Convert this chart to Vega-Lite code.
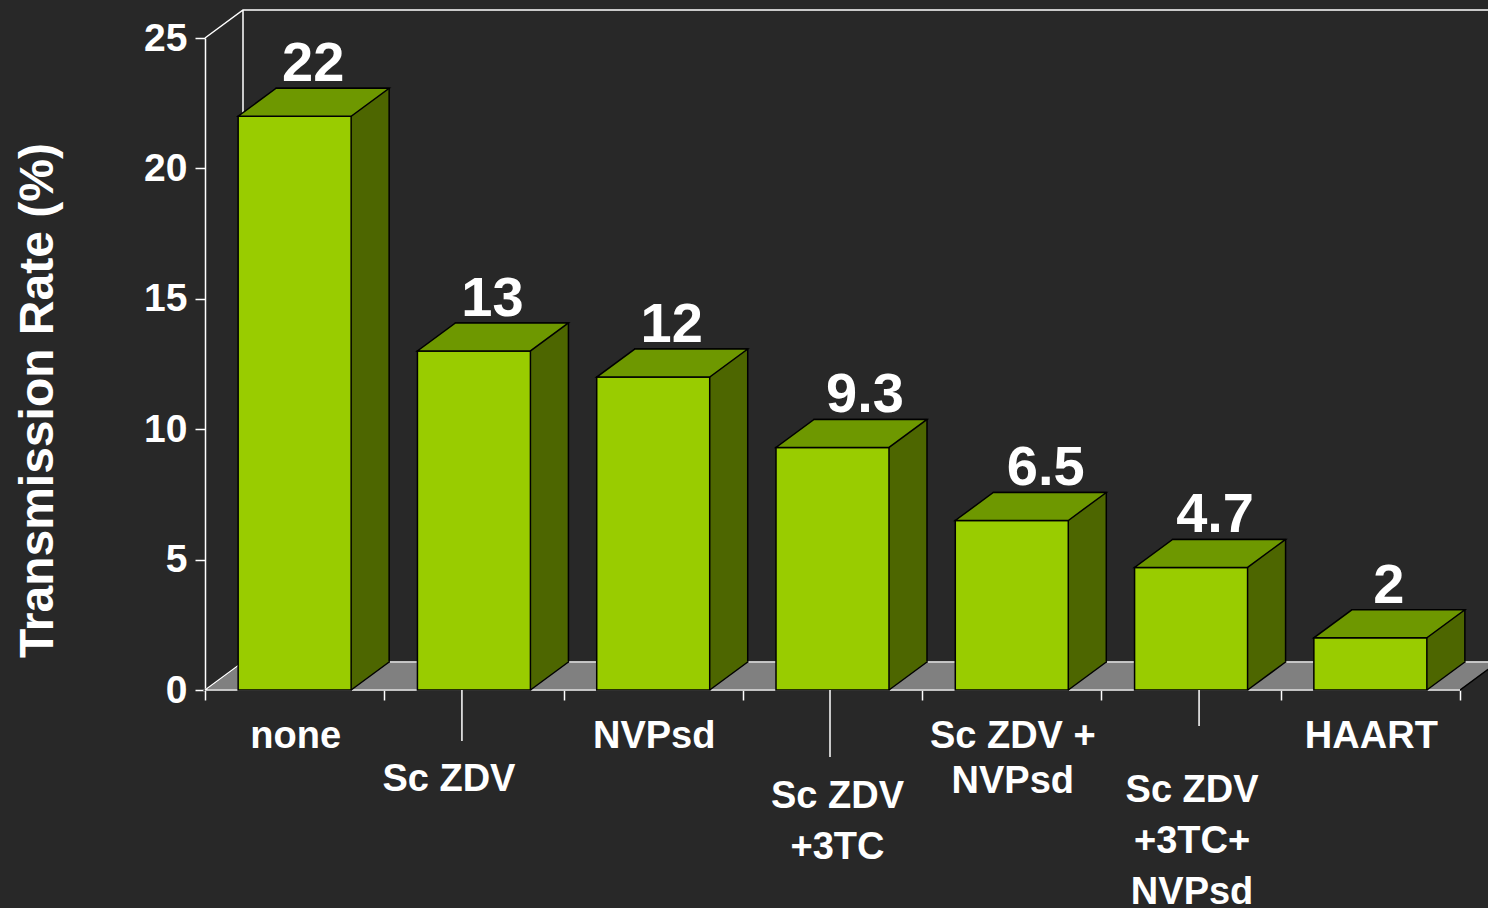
{
  "$schema": "https://vega.github.io/schema/vega-lite/v6.json",
  "width": 1255,
  "height": 652,
  "autosize": {"type": "none"},
  "padding": {"left": 205, "top": 38, "right": 28, "bottom": 218},
  "background": "#282828",
  "config": {
    "view": {"stroke": null},
    "font": "Liberation Sans"
  },
  "data": {
    "values": [
      {"cat": "none", "v": 22},
      {"cat": "Sc ZDV", "v": 13},
      {"cat": "NVPsd", "v": 12},
      {"cat": "Sc ZDV\n+3TC", "v": 9.3},
      {"cat": "Sc ZDV  +\nNVPsd", "v": 6.5},
      {"cat": "Sc ZDV\n+3TC+\nNVPsd", "v": 4.7},
      {"cat": "HAART", "v": 2}
    ]
  },
  "encoding": {
    "x": {
      "field": "cat",
      "type": "nominal",
      "scale": {
        "type": "band",
        "domain": ["none", "Sc ZDV", "NVPsd", "Sc ZDV\n+3TC", "Sc ZDV  +\nNVPsd", "Sc ZDV\n+3TC+\nNVPsd", "HAART"],
        "paddingInner": 0,
        "paddingOuter": 0
      },
      "axis": {
        "title": null,
        "labels": false,
        "domain": false,
        "ticks": true,
        "tickBand": "extent",
        "tickColor": "#ffffff",
        "tickWidth": 1.5,
        "tickSize": 10,
        "grid": false
      }
    },
    "y": {
      "field": "v",
      "type": "quantitative",
      "scale": {"domain": [0, 25], "nice": false, "zero": true},
      "axis": {
        "title": "Transmission Rate (%)",
        "values": [0, 5, 10, 15, 20, 25],
        "grid": false,
        "domainColor": "#ffffff",
        "domainWidth": 1.5,
        "tickColor": "#ffffff",
        "tickWidth": 1.5,
        "tickSize": 10,
        "labelColor": "#ffffff",
        "labelFont": "Liberation Sans",
        "labelFontSize": 39,
        "labelFontWeight": "bold",
        "labelPadding": 8,
        "titleColor": "#ffffff",
        "titleFont": "Liberation Sans",
        "titleFontSize": 48,
        "titleFontWeight": "bold",
        "titleAngle": -90,
        "titleAlign": "center",
        "titleBaseline": "alphabetic",
        "titleX": -153,
        "titleY": 362
      }
    }
  },
  "layer": [
    {
      "transform": [{"filter": "datum.cat == 'none'"}],
      "mark": {
        "type": "point",
        "shape": "M0,0L38,-28L1293,-28L1255,0Z",
        "size": 4,
        "filled": true,
        "fill": "#808080",
        "stroke": "#000000",
        "strokeWidth": 1.5,
        "opacity": 1,
        "xOffset": -89.64
      },
      "encoding": {"y": {"datum": 0}}
    },
    {
      "transform": [{"filter": "datum.cat == 'none'"}],
      "mark": {
        "type": "point",
        "shape": "M0,0L38,-28L1293,-28M38,-28L38,624L1293,624M0,652L38,624M0,652L1255,652",
        "size": 4,
        "filled": false,
        "stroke": "#ffffff",
        "strokeWidth": 1.5,
        "opacity": 1,
        "xOffset": -89.64
      },
      "encoding": {"y": {"datum": 25}}
    },
    {
      "mark": {
        "type": "text",
        "color": "#ffffff",
        "font": "Liberation Sans",
        "fontSize": 56,
        "fontWeight": "bold",
        "align": "center",
        "baseline": "alphabetic",
        "dx": {"expr": "datum.v == 9.3 ? 32.5 : datum.v == 6.5 ? 34 : datum.v == 4.7 ? 24 : 18.5"},
        "dy": -35
      },
      "encoding": {"text": {"field": "v", "type": "quantitative"}}
    },
    {
      "mark": {
        "type": "bar",
        "width": 113,
        "xOffset": 38,
        "yOffset": -28,
        "y2Offset": -28,
        "fill": "#4d6600",
        "stroke": "#000000",
        "strokeWidth": 1.5
      }
    },
    {
      "mark": {
        "type": "point",
        "shape": "M0,0L0,-29L37.2,-29L38,-28Z",
        "size": 4,
        "filled": true,
        "fill": "#4d6600",
        "stroke": null,
        "opacity": 1,
        "xOffset": 56.5
      },
      "encoding": {"y": {"datum": 0}}
    },
    {
      "mark": {
        "type": "point",
        "shape": "M0,0L38,-28",
        "size": 4,
        "filled": false,
        "stroke": "#000000",
        "strokeWidth": 1.5,
        "opacity": 1,
        "xOffset": 56.5
      },
      "encoding": {"y": {"datum": 0}}
    },
    {
      "mark": {
        "type": "bar",
        "width": 113,
        "fill": "#99cc00",
        "stroke": "#000000",
        "strokeWidth": 1.5
      }
    },
    {
      "mark": {
        "type": "point",
        "shape": "M-56.5,0L56.5,0L94.5,-28L-18.5,-28Z",
        "size": 4,
        "filled": true,
        "fill": "#6e9800",
        "stroke": "#000000",
        "strokeWidth": 1.5,
        "opacity": 1
      }
    },
    {
      "transform": [{"filter": "datum.cat == 'Sc ZDV' || indexof(datum.cat, '3TC') >= 0"}],
      "mark": {
        "type": "rule",
        "color": "#ffffff",
        "strokeWidth": 1.5,
        "xOffset": {"expr": "datum.cat == 'Sc ZDV' ? -12 : indexof(datum.cat, '3TC+') >= 0 ? 8 : -2.5"},
        "y2Offset": {"expr": "datum.cat == 'Sc ZDV' ? 51 : indexof(datum.cat, '3TC+') >= 0 ? 36 : 67"}
      },
      "encoding": {"y": {"datum": 0}, "y2": {"datum": 0}}
    },
    {
      "mark": {
        "type": "text",
        "color": "#ffffff",
        "font": "Liberation Sans",
        "fontSize": 38,
        "fontWeight": "bold",
        "align": "center",
        "baseline": "alphabetic",
        "lineBreak": "\n",
        "lineHeight": {"expr": "indexof(datum.cat, '  +') >= 0 ? 45 : 51"},
        "dx": {"expr": "datum.cat == 'Sc ZDV' ? -25 : indexof(datum.cat, '3TC+') >= 0 ? 1 : indexof(datum.cat, '3TC') >= 0 ? 5 : 1"},
        "dy": {"expr": "datum.cat == 'Sc ZDV' ? 101 : indexof(datum.cat, '3TC+') >= 0 ? 112 : indexof(datum.cat, '3TC') >= 0 ? 118 : 58"}
      },
      "encoding": {"y": {"datum": 0}, "text": {"field": "cat", "type": "nominal"}}
    }
  ]
}
